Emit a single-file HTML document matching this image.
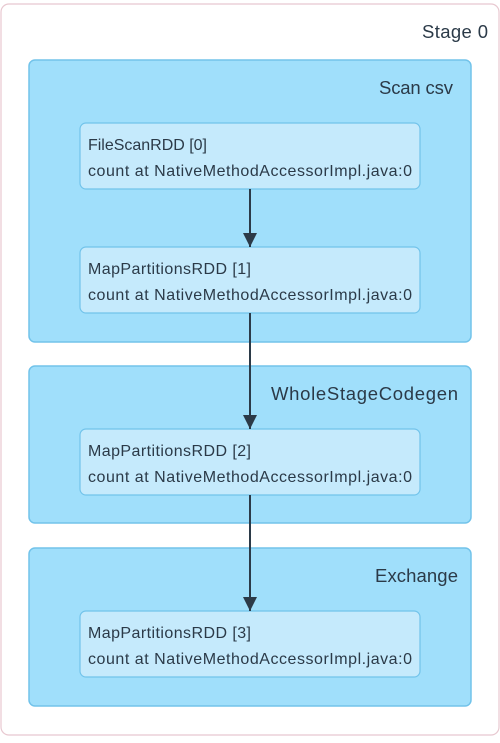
<!DOCTYPE html><html><head><style>body{margin:0;background:#fff}</style></head><body>
<svg width="500" height="738" xmlns="http://www.w3.org/2000/svg" font-family="Liberation Sans, sans-serif">
<defs>
<marker id="b" viewBox="0 0 10 10" markerWidth="14" markerHeight="14" refX="10" refY="5" orient="auto" markerUnits="userSpaceOnUse"><path d="M0,0 L10,5 L0,10 z" fill="#2b3a48"/></marker></defs>
<rect x="1" y="4" width="498" height="731" rx="8" fill="#fff" stroke="#e8c8d0" stroke-width="1.2"/>
<text x="488" y="38" text-anchor="end" font-size="18.5" fill="#2b3a48" textLength="66">Stage 0</text>
<g font-size="18.5" fill="#2b3a48" text-anchor="end">
<text x="453" y="94" textLength="74" fill="none">Scan csv</text>
</g>
<g fill="#a0dffb" stroke="#72c3ea" stroke-width="1.5">
<rect x="29" y="60" width="442" height="282" rx="6"/>
<rect x="29" y="366" width="442" height="157" rx="6"/>
<rect x="29" y="548" width="442" height="158" rx="6"/>
</g>
<g font-size="18.5" fill="#2b3a48" text-anchor="end">
<text x="453" y="94" textLength="74">Scan csv</text>
<text x="458" y="400" textLength="187">WholeStageCodegen</text>
<text x="458" y="582" textLength="83">Exchange</text>
</g>
<g fill="#c5eafc" stroke="#72c3ea" stroke-width="1.2">
<rect x="80" y="123" width="340" height="66" rx="6"/>
<rect x="80" y="247" width="340" height="66" rx="6"/>
<rect x="80" y="429" width="340" height="66" rx="6"/>
<rect x="80" y="611" width="340" height="66" rx="6"/>
</g>
<g font-size="16" fill="#2b3a48">
<text x="88" y="150" textLength="119">FileScanRDD [0]</text><text x="88" y="176" textLength="324">count at NativeMethodAccessorImpl.java:0</text>
<text x="88" y="274" textLength="163">MapPartitionsRDD [1]</text><text x="88" y="300" textLength="324">count at NativeMethodAccessorImpl.java:0</text>
<text x="88" y="456" textLength="163">MapPartitionsRDD [2]</text><text x="88" y="482" textLength="324">count at NativeMethodAccessorImpl.java:0</text>
<text x="88" y="638" textLength="163">MapPartitionsRDD [3]</text><text x="88" y="664" textLength="324">count at NativeMethodAccessorImpl.java:0</text>
</g>
<g stroke="#2b3a48" stroke-width="2" marker-end="url(#b)">
<line x1="250" y1="189" x2="250" y2="247"/>
<line x1="250" y1="313" x2="250" y2="429"/>
<line x1="250" y1="495" x2="250" y2="611"/>
</g>
</svg></body></html>
